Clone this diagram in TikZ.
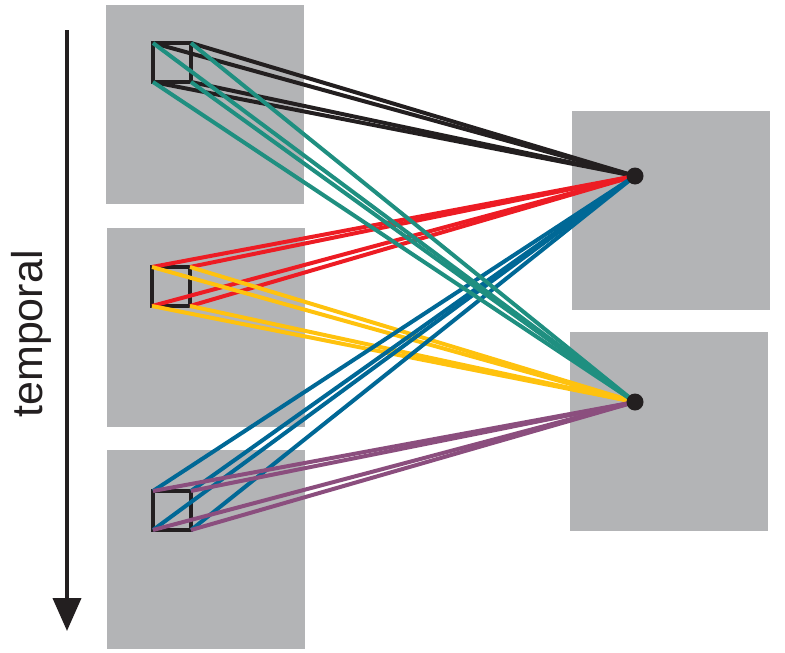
\documentclass[tikz,border=0pt]{standalone}
\usepackage{fontspec}
\setmainfont{Liberation Sans}
\usetikzlibrary{arrows.meta}
\definecolor{boxgray}{RGB}{179,180,182}
\definecolor{lblack}{RGB}{35,31,32}
\definecolor{lteal}{RGB}{31,143,128}
\definecolor{lred}{RGB}{237,28,36}
\definecolor{lyellow}{RGB}{255,194,14}
\definecolor{lblue}{RGB}{0,104,150}
\definecolor{lpurple}{RGB}{139,78,126}
\tikzset{
  panel/.style={fill=boxgray, draw=none, minimum width=198pt, minimum height=199pt, inner sep=0pt, outer sep=0pt, anchor=north west},
  sq/.style={draw=lblack, line width=4pt, minimum width=38pt, minimum height=39pt, inner sep=0pt, outer sep=0pt, anchor=north west},
  conn/.style={line width=4pt},
  dotnode/.style={circle, fill=lblack, minimum size=17pt, inner sep=0pt}
}
\begin{document}
\begin{tikzpicture}[x=1pt,y=-1pt]
\useasboundingbox (0,0) rectangle (785,653);
% panels
\node[panel] (p1) at (106,5) {};
\node[panel] (p2) at (107,228) {};
\node[panel] (p3) at (107,450) {};
\node[panel] (q1) at (572,111) {};
\node[panel] (q2) at (570,332) {};
% squares
\node[sq] (s1) at (153,43) {};
\node[sq] (s2) at (152,267) {};
\node[sq] (s3) at (153,491) {};
% target dots
\coordinate (d1) at (635,176);
\coordinate (d2) at (635,402);
% connectors
\foreach \c in {north west,north east,south west,south east}{
  \draw[conn,lblack] (s1.\c) -- (d1);
}
\foreach \c in {north west,north east,south west,south east}{
  \draw[conn,lred] (s2.\c) -- (d1);
}
\foreach \c in {north west,north east,south west,south east}{
  \draw[conn,lyellow] (s2.\c) -- (d2);
}
\foreach \c in {north west,north east,south west,south east}{
  \draw[conn,lblue] (s3.\c) -- (d1);
}
\foreach \c in {north west,north east,south west,south east}{
  \draw[conn,lpurple] (s3.\c) -- (d2);
}
\foreach \c in {north west,north east,south west,south east}{
  \draw[conn,lteal] (s1.\c) -- (d2);
}
\node[dotnode] (dot1) at (d1) {};
\node[dotnode] (dot2) at (d2) {};
% time arrow
\coordinate (a1) at (67,30);
\coordinate (a2) at (67,631);
\draw[line width=4pt, lblack, -{Triangle[length=33pt,width=28pt]}] (a1) -- (a2);
\node[rotate=90, font=\fontsize{43}{48}\selectfont, text=lblack] (lab) at (31,334) {temporal};
\end{tikzpicture}
\end{document}
